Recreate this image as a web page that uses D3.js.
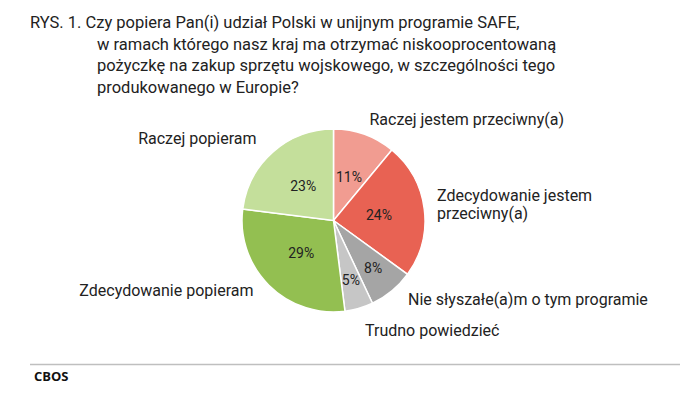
<!DOCTYPE html>
<html><head><meta charset="utf-8">
<script src="https://cdn.jsdelivr.net/npm/d3@7"></script>
<style>body{margin:0;background:#fff}svg{display:block}</style>
</head><body>
<svg id="c" width="700" height="393"></svg>
<script>
const categories = ["Raczej jestem przeciwny(a)","Zdecydowanie jestem przeciwny(a)","Nie słyszałe(a)m o tym programie","Trudno powiedzieć","Zdecydowanie popieram","Raczej popieram"];
const values = [11, 24, 8, 5, 29, 23];
const colors = ["#F19C91","#E86253","#A5A5A5","#C6C6C6","#93BF51","#C4DF9B"];
const titleLines = ["RYS. 1. Czy popiera Pan(i) udział Polski w unijnym programie SAFE,","w ramach którego nasz kraj ma otrzymać niskooprocentowaną","pożyczkę na zakup sprzętu wojskowego, w szczególności tego","produkowanego w Europie?"];
const labelLines = [["Raczej jestem przeciwny(a)"],["Zdecydowanie jestem","przeciwny(a)"],["Nie słyszałe(a)m o tym programie"],["Trudno powiedzieć"],["Zdecydowanie popieram"],["Raczej popieram"]];
const source = "CBOS";

const svg = d3.select("#c");
const font = "Roboto, 'Noto Sans', sans-serif";

// title
const t = svg.append("text").attr("font-family", font).attr("font-size", 16.5).attr("fill", "#222");
titleLines.forEach((l,i)=>{
  t.append("tspan").attr("x", i===0?30:97).attr("y", 28 + i*21.5).text(l);
});

const cx = 333.5, cy = 220.5, R = 91.5;
const pie = d3.pie().sort(null).value(d=>d)(values);
const arc = d3.arc().innerRadius(0).outerRadius(R);
const g = svg.append("g").attr("transform", `translate(${cx},${cy})`);
g.selectAll("path").data(pie).join("path")
  .attr("d", arc).attr("fill", (d,i)=>colors[i])
  .attr("stroke", "#fff").attr("stroke-width", 1.5);

g.selectAll("text.pct").data(pie).join("text").attr("class","pct")
  .attr("transform", d=>{
    const r = d.data < 10 ? R*0.68 : R*0.5;
    const a = (d.startAngle + d.endAngle)/2;
    return `translate(${Math.sin(a)*r},${-Math.cos(a)*r})`;
  })
  .attr("text-anchor","middle").attr("dy","0.35em")
  .attr("font-family", font).attr("font-size", 14).attr("fill","#222")
  .text(d=>d.data + "%");

// outside labels
const outerOffsets = [[36,-96],[103.5,-20],[74.5,84],[31.5,115],[-80,75],[-77,-77]];
pie.forEach((d,i)=>{
  const a = (d.startAngle + d.endAngle)/2;
  const right = Math.sin(a) >= 0;
  const tx = g.append("text").attr("font-family", font).attr("font-size", 16).attr("fill","#222")
    .attr("text-anchor", right ? "start" : "end");
  labelLines[i].forEach((l,j)=>{
    tx.append("tspan").attr("x", outerOffsets[i][0]).attr("y", outerOffsets[i][1] + j*18.5).text(l);
  });
});

// footer
svg.append("line").attr("x1",30).attr("x2",680).attr("y1",364.5).attr("y2",364.5)
  .attr("stroke","#BFBFBF").attr("stroke-width",1.5);
svg.append("text").attr("x",34).attr("y",381).attr("font-family","'Open Sans', sans-serif")
  .attr("font-weight","bold").attr("font-size",13).attr("fill","#111").text(source);
</script>
</body></html>
